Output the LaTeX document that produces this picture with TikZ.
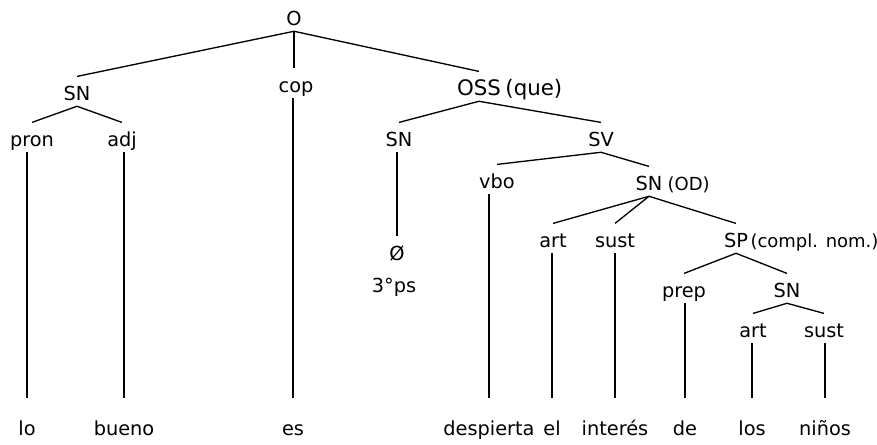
\documentclass[tikz,border=0pt]{standalone}
\usepackage{fontspec}
\setmainfont{DejaVu Sans}
\usetikzlibrary{positioning}

\begin{document}
\begin{tikzpicture}[x=0.75pt,y=-0.75pt,
  cat/.style={anchor=base,inner sep=1.5pt,text height=16pt,text depth=3pt,font=\fontsize{14.5}{17}\selectfont},
  bigcat/.style={cat,font=\fontsize{16}{19}\selectfont},
  word/.style={cat,text height=26pt},
  note/.style={inner sep=0pt,font=\fontsize{13.5}{16}\selectfont},
  edge/.style={line width=1pt}]
\useasboundingbox (0,0) rectangle (877,444);

% categories
\node(O)[cat] at (294,25) {O};
\node(SNa)[cat] at (77,100) {SN};
\node(cop)[cat] at (296,92) {cop};
\node(OSS)[bigcat] at (479,95) {OSS};
\node(que)[bigcat,base right=0pt of OSS] {(que)};
\node(pron)[cat] at (32,146) {pron};
\node(adj)[cat] at (122,146) {adj};
\node(SNb)[cat] at (399,146) {SN};
\node(SV)[cat] at (601,146) {SV};
\node(vbo)[cat] at (497,188) {vbo};
\node(SNod)[cat] at (649,190) {SN};
\node(OD)[note,base right=2pt of SNod] {(OD)};
\node(art)[cat] at (553,247) {art};
\node(sust)[cat] at (615,247) {sust};
\node(SP)[cat] at (736,247) {SP};
\node(compl)[note,base right=0pt of SP] {(compl. nom.)};
\node(prep)[cat] at (684,297) {prep};
\node(SNc)[cat] at (787,297) {SN};
\node(artb)[cat] at (753,337) {art};
\node(sustb)[cat] at (824,337) {sust};
\node(nul)[cat] at (397,260) {Ø};
\node(ps)[cat] at (394,292) {3°ps};

% words
\node(lo)[word] at (27,435) {lo};
\node(bueno)[word] at (124,435) {bueno};
\node(es)[word] at (293,435) {es};
\node(despierta)[word] at (489,435) {despierta};
\node(el)[word] at (552,435) {el};
\node(interes)[word] at (615,435) {interés};
\node(de)[word] at (685,435) {de};
\node(los)[word] at (752,435) {los};
\node(ninos)[word] at (825,435) {niños};

% branches
\draw [edge] (O.south) -- (SNa.north);
\draw [edge] (O.south) -- (O.south |- cop.north);
\draw [edge] (O.south) -- (OSS.north);
\draw [edge] (SNa.south) -- (pron.north);
\draw [edge] (SNa.south) -- (adj.north);
\draw [edge] (OSS.south) -- (SNb.north);
\draw [edge] (OSS.south) -- (SV.north);
\draw [edge] (SV.south) -- (vbo.north);
\draw [edge] (SV.south) -- (SNod.north);
\draw [edge] (SNod.south) -- (art.north);
\draw [edge] (SNod.south) -- (sust.north);
\draw [edge] (SNod.south) -- (SP.north);
\draw [edge] (SP.south) -- (prep.north);
\draw [edge] (SP.south) -- (SNc.north);
\draw [edge] (SNc.south) -- (artb.north);
\draw [edge] (SNc.south) -- (sustb.north);
\draw [edge] (nul.north |- SNb.south) -- (nul.north);

% down to the words
\draw [edge] (lo.north |- pron.south) -- (lo.north);
\draw [edge] (bueno.north |- adj.south) -- (bueno.north);
\draw [edge] (es.north |- cop.south) -- (es.north);
\draw [edge] (despierta.north |- vbo.south) -- (despierta.north);
\draw [edge] (el.north |- art.south) -- (el.north);
\draw [edge] (interes.north |- sust.south) -- (interes.north);
\draw [edge] (de.north |- prep.south) -- (de.north);
\draw [edge] (los.north |- artb.south) -- (los.north);
\draw [edge] (ninos.north |- sustb.south) -- (ninos.north);
\end{tikzpicture}
\end{document}
